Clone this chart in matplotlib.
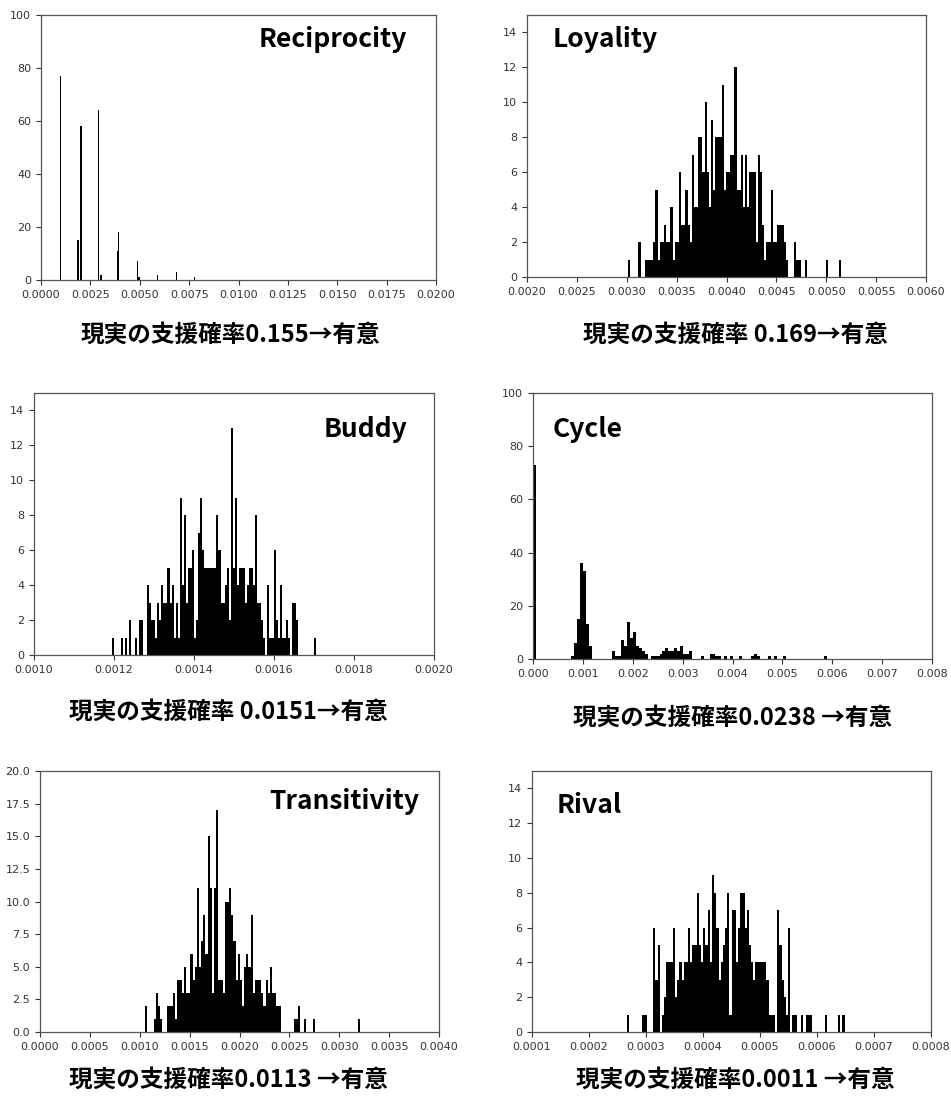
import matplotlib
matplotlib.use("Agg")
import matplotlib.pyplot as plt
import numpy as np
from matplotlib.ticker import FormatStrFormatter

plt.rcParams['font.family'] = ['DejaVu Sans']

# histogram counts (100 bins each, between lo and hi)
reciprocity_range = (0.00096, 0.00779)
reciprocity_counts = [77, 0, 0, 0, 0, 0, 0, 0, 0, 0,
                      0, 0, 0, 15, 0, 58, 0, 0, 0, 0,
                      0, 0, 0, 0, 0, 0, 0, 0, 64, 0,
                      2, 0, 0, 0, 0, 0, 0, 0, 0, 0,
                      0, 0, 11, 18, 0, 0, 0, 0, 0, 0,
                      0, 0, 0, 0, 0, 0, 0, 7, 1, 0,
                      0, 0, 0, 0, 0, 0, 0, 0, 0, 0,
                      0, 0, 2, 0, 0, 0, 0, 0, 0, 0,
                      0, 0, 0, 0, 0, 0, 3, 0, 0, 0,
                      0, 0, 0, 0, 0, 0, 0, 0, 0, 1]

loyality_range = (0.00301, 0.00515)
loyality_counts = [1, 0, 0, 0, 0, 2, 0, 0, 1, 1,
                   1, 1, 2, 5, 1, 2, 2, 3, 2, 2,
                   4, 1, 2, 2, 6, 3, 3, 5, 3, 2,
                   7, 4, 4, 8, 8, 6, 10, 6, 4, 9,
                   5, 8, 8, 8, 11, 5, 6, 6, 7, 7,
                   12, 5, 5, 7, 4, 7, 4, 6, 6, 6,
                   2, 7, 6, 3, 1, 2, 2, 5, 2, 2,
                   3, 3, 3, 2, 1, 0, 0, 0, 2, 1,
                   1, 0, 0, 1, 0, 0, 0, 0, 0, 0,
                   0, 0, 0, 1, 0, 0, 0, 0, 0, 1]

buddy_range = (0.001196, 0.001706)
buddy_counts = [1, 0, 0, 0, 1, 0, 1, 0, 2, 0,
                0, 1, 0, 2, 2, 0, 0, 4, 3, 2,
                2, 1, 3, 2, 4, 3, 3, 5, 3, 4,
                1, 3, 1, 9, 4, 8, 3, 5, 5, 6,
                1, 2, 7, 9, 6, 5, 5, 5, 5, 5,
                5, 8, 6, 3, 3, 4, 5, 2, 13, 5,
                9, 4, 5, 5, 5, 3, 4, 5, 5, 4,
                8, 3, 3, 2, 1, 0, 4, 1, 1, 6,
                2, 1, 4, 1, 1, 2, 1, 0, 3, 3,
                2, 0, 0, 0, 0, 0, 0, 0, 0, 1]

cycle_range = (0.0, 0.0059)
cycle_counts = [73, 0, 0, 0, 0, 0, 0, 0, 0, 0,
                0, 0, 0, 1, 6, 15, 36, 33, 13, 5,
                0, 0, 0, 0, 0, 0, 0, 3, 1, 1,
                7, 5, 14, 8, 10, 5, 4, 3, 2, 0,
                1, 1, 1, 2, 3, 4, 3, 3, 4, 3,
                5, 2, 2, 3, 0, 0, 0, 1, 0, 0,
                2, 2, 1, 1, 0, 1, 0, 1, 0, 0,
                1, 0, 0, 0, 1, 2, 1, 0, 0, 0,
                1, 0, 1, 0, 0, 1, 0, 0, 0, 0,
                0, 0, 0, 0, 0, 0, 0, 0, 0, 1]

transitivity_range = (0.001055, 0.003210)
transitivity_counts = [2, 0, 0, 0, 1, 3, 2, 1, 0, 0,
                       2, 2, 2, 3, 1, 4, 4, 3, 5, 3,
                       3, 6, 4, 5, 11, 5, 7, 9, 6, 15,
                       11, 3, 11, 17, 4, 4, 3, 10, 10, 11,
                       9, 7, 4, 6, 4, 2, 5, 6, 5, 9,
                       3, 4, 4, 4, 3, 2, 4, 3, 5, 3,
                       3, 2, 2, 0, 0, 0, 0, 0, 0, 1,
                       1, 2, 0, 0, 1, 0, 0, 0, 1, 0,
                       0, 0, 0, 0, 0, 0, 0, 0, 0, 0,
                       0, 0, 0, 0, 0, 0, 0, 0, 0, 1]

rival_range = (0.000267, 0.0006485)
rival_counts = [1, 0, 0, 0, 0, 0, 0, 1, 1, 0,
                0, 0, 6, 3, 5, 0, 1, 2, 4, 4,
                4, 6, 2, 3, 4, 3, 4, 4, 6, 4,
                5, 5, 8, 5, 4, 6, 5, 7, 4, 9,
                8, 6, 3, 4, 5, 6, 8, 1, 7, 7,
                4, 6, 8, 8, 6, 7, 5, 4, 3, 4,
                4, 4, 4, 4, 3, 1, 1, 1, 0, 7,
                5, 3, 2, 1, 6, 0, 1, 1, 0, 0,
                1, 0, 1, 1, 1, 0, 0, 0, 0, 0,
                0, 1, 0, 0, 0, 0, 0, 1, 0, 1]

titles = ["Reciprocity", "Loyality", "Buddy", "Cycle", "Transitivity", "Rival"]
captions = ["現実の支援確率0.155→有意", "現実の支援確率 0.169→有意",
            "現実の支援確率 0.0151→有意", "現実の支援確率0.0238 →有意",
            "現実の支援確率0.0113 →有意", "現実の支援確率0.0011 →有意"]

W, H = 951, 1106
fig = plt.figure(figsize=(W / 100, H / 100), dpi=100)

def box(left, top, right, bottom):
    return [left / W, 1 - bottom / H, (right - left) / W, (bottom - top) / H]

# layout: axes box (px), x ticks, x format, y ticks, ylim, title pos, title align, caption center
panels = [
    (reciprocity_range, reciprocity_counts, box(41, 15, 436, 280),
     np.arange(0, 0.02001, 0.0025), '%.4f', np.arange(0, 101, 20), 100,
     (407, 47), 'right', (230, 335)),
    (loyality_range, loyality_counts, box(527, 15, 926, 277),
     np.arange(0.002, 0.00601, 0.0005), '%.4f', np.arange(0, 15, 2), 15,
     (553, 47), 'left', (735, 335)),
    (buddy_range, buddy_counts, box(34, 393, 434, 655),
     np.arange(0.001, 0.002001, 0.0002), '%.4f', np.arange(0, 15, 2), 15,
     (407, 437), 'right', (228, 712)),
    (cycle_range, cycle_counts, box(533, 393, 932, 659),
     np.arange(0, 0.00801, 0.001), '%.3f', np.arange(0, 101, 20), 100,
     (553, 437), 'left', (733, 718)),
    (transitivity_range, transitivity_counts, box(40, 771, 439, 1032),
     np.arange(0, 0.004001, 0.0005), '%.4f', np.arange(0, 20.1, 2.5), 20,
     (419, 809), 'right', (228, 1080)),
    (rival_range, rival_counts, box(532, 771, 931, 1032),
     np.arange(0.0001, 0.000801, 0.0001), '%.4f', np.arange(0, 15, 2), 15,
     (557, 813), 'left', (735, 1080)),
]

for i, (rng, counts, pos, xt, xfmt, yt, ytop, tpos, talign, cpos) in enumerate(panels):
    ax = fig.add_axes(pos)
    edges = np.linspace(rng[0], rng[1], len(counts) + 1)
    centers = (edges[:-1] + edges[1:]) / 2
    ax.hist(centers, bins=edges, weights=counts, color='black')
    ax.set_xlim(xt[0], xt[-1])
    ax.set_ylim(0, ytop)
    ax.set_xticks(xt)
    ax.set_yticks(yt)
    ax.xaxis.set_major_formatter(FormatStrFormatter(xfmt))
    if ytop == 20:
        ax.yaxis.set_major_formatter(FormatStrFormatter('%.1f'))
    ax.tick_params(labelsize=8, colors='#333333', length=3.5, width=0.8)
    for s in ax.spines.values():
        s.set_color('#555555')
        s.set_linewidth(0.9)

    fig.text(tpos[0] / W, 1 - tpos[1] / H, titles[i], ha=talign, va='baseline',
             fontsize=19, fontweight='bold', family=['Noto Sans CJK JP', 'DejaVu Sans'])
    fig.text(cpos[0] / W, 1 - cpos[1] / H, captions[i], ha='center', va='center',
             fontsize=17, fontweight='bold', family=['Noto Sans CJK JP', 'DejaVu Sans'])

fig.savefig('out.png', dpi=100)
